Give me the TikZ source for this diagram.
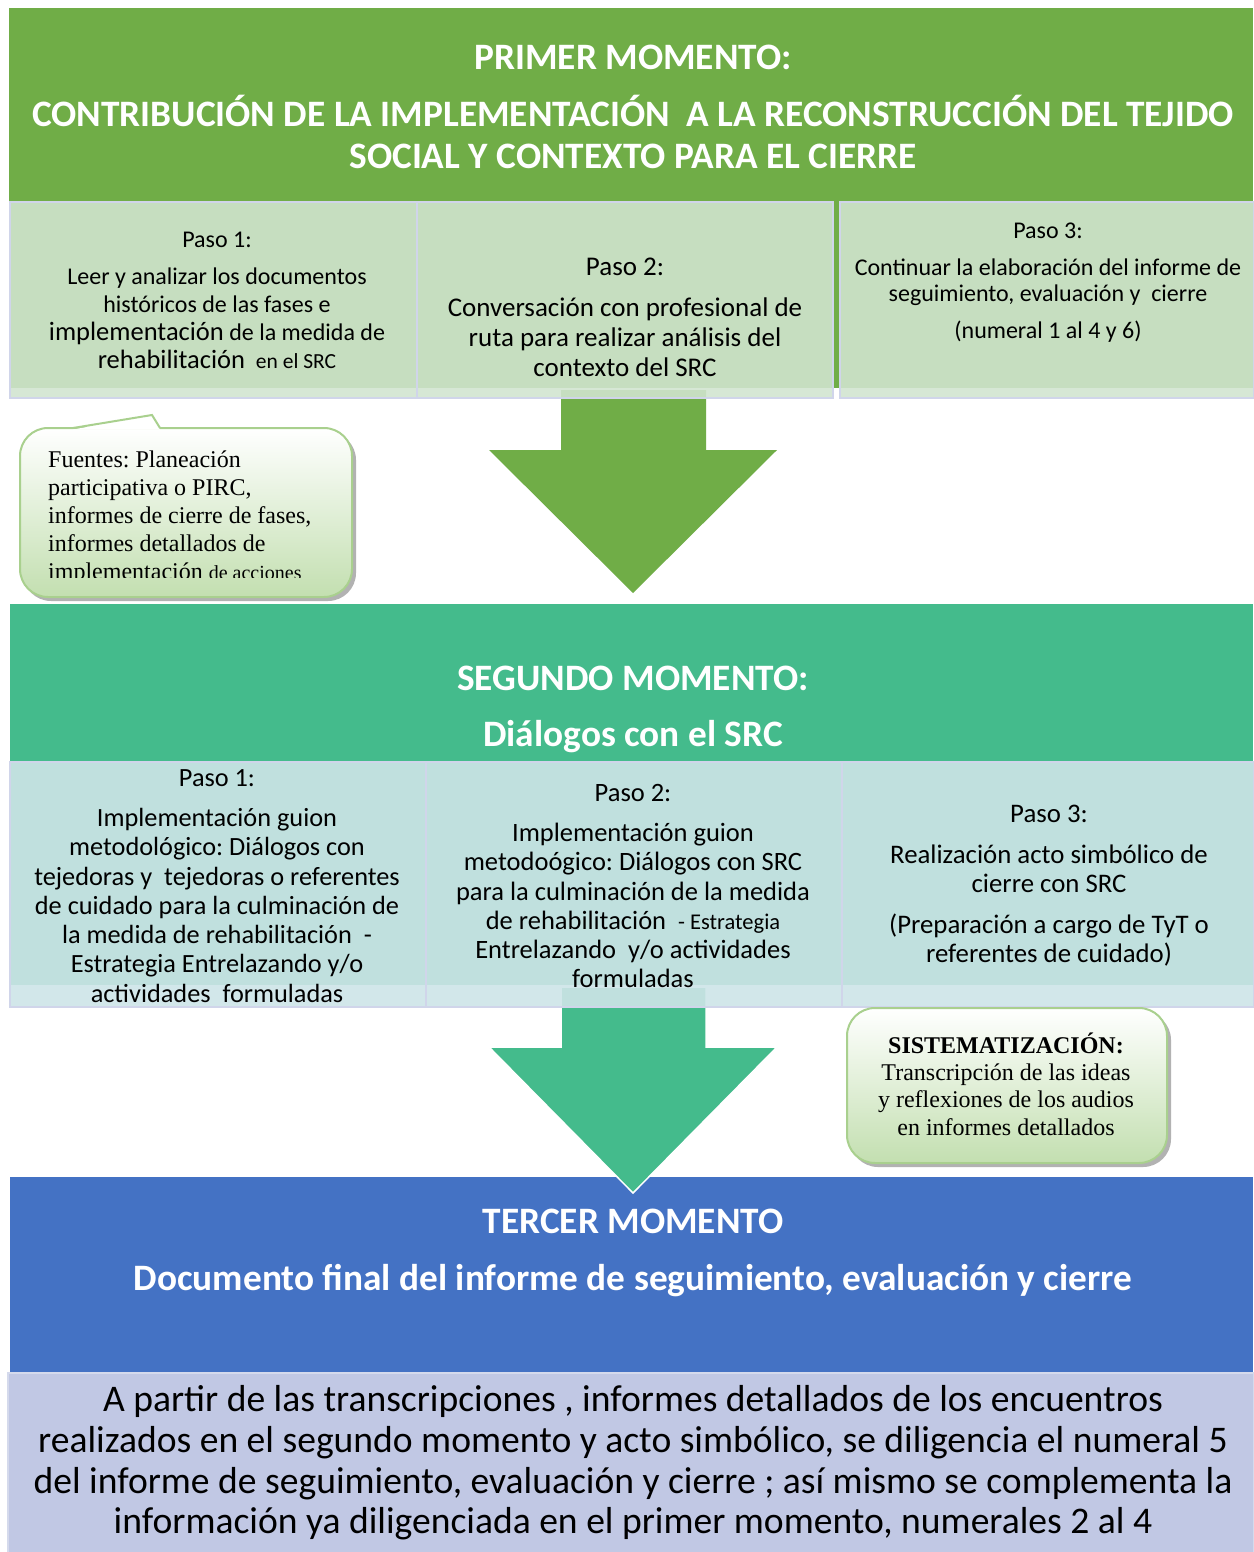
\documentclass[tikz,border=0pt]{standalone}
\usepackage{fontspec}
\setmainfont{Carlito}
\newfontfamily\tnr{Liberation Serif}
\frenchspacing
\definecolor{gA}{HTML}{70AD47}
\definecolor{tA}{HTML}{44BB8C}
\definecolor{bA}{HTML}{4472C4}
\definecolor{lav}{HTML}{D0D5EA}
\definecolor{boxA}{RGB}{209,229,208}
\definecolor{boxB}{RGB}{206,229,232}
\definecolor{botfill}{HTML}{C1C8E4}
\definecolor{botline}{HTML}{D5DAEC}
\definecolor{calborder}{HTML}{A9D08E}
\definecolor{calbot}{HTML}{C3DFB0}
\newcommand\myfs[2]{\fontsize{#1}{#2}\selectfont}
\begin{document}
\frenchspacing
\begin{tikzpicture}[x=1pt,y=-1pt,
  title/.style={text=white, font=\bfseries\myfs{37.3}{44}, inner sep=0pt, anchor=base},
  ptext/.style={align=center, inner sep=0pt, text=black, execute at begin node=\frenchspacing},
  rowA/.style={fill=boxA, fill opacity=0.89, draw=lav, line width=1.8pt},
  rowB/.style={fill=boxB, fill opacity=0.9, draw=lav, line width=1.8pt},
  calshadow/.style={fill=black!55, opacity=0.55, rounded corners=28pt},
  calbody/.style={top color=white, bottom color=calbot, draw=calborder, line width=2pt, rounded corners=28pt},
  bigarrow/.style={line join=miter}
]
\useasboundingbox (0,0) rectangle (1253,1552);
\fill[white] (0,0) rectangle (1253,1552);

% ---------- first moment ----------
\fill[gA] (9,8) rectangle (1253,388);
\fill[gA, bigarrow] (561,390) -- (706,390) -- (706,450) -- (777,450) -- (633,593) -- (489,450) -- (561,450) -- cycle;
\path[rowA] (10,202) rectangle (417,398);
\path[rowA] (417,202) rectangle (833,398);
\path[rowA] (840,202) rectangle (1254,398);

\node[title] (t1a) at (633,70) {PRIMER MOMENTO:};
\node[title] (t1b) at (633,127) {CONTRIBUCIÓN DE LA IMPLEMENTACIÓN\ \ A LA RECONSTRUCCIÓN DEL TEJIDO};
\node[title] (t1c) at (633,168) {SOCIAL Y CONTEXTO PARA EL CIERRE};

\node[ptext, font=\myfs{24}{28}] (p11) at (217,300) {Paso 1:\\[9pt]Leer y analizar los documentos\\históricos de las fases e\\{\myfs{26.5}{28}implementación} de la medida de\\{\myfs{26.5}{28}rehabilitación}\ \ {\myfs{21.5}{28}en el SRC}};
\node[ptext, font=\myfs{27}{30}] (p12) at (625,317) {Paso 2:\\[11pt]Conversación con profesional de\\ruta para realizar análisis del\\contexto del SRC};
\node[ptext, font=\myfs{24}{26}] (p13) at (1048,283) {Paso 3:\\[11pt]Continuar la elaboración del informe de\\seguimiento, evaluación y\ \ cierre\\[11pt](numeral 1 al 4 y 6)};

% callout Fuentes
\fill[calshadow] (23,432) rectangle (356,601);
\path[calbody] (20,428) rectangle (352,597);
\fill[white] (73,429.5) -- (152,415) -- (160,429.5) -- cycle;
\draw[calborder, line width=2pt, line join=miter] (73,428) -- (152,415) -- (160,428);
\begin{scope}
\clip (20,428) rectangle (352,577);
\node[align=left, inner sep=0pt, anchor=north west, font=\tnr\myfs{24}{28}, execute at begin node=\frenchspacing] (fuentes) at (48,451) {Fuentes: Planeación\\participativa o PIRC,\\informes de cierre de fases,\\informes detallados de\\implementación {\myfs{20}{28}de acciones}};
\end{scope}

% ---------- second moment ----------
\fill[tA] (10,604) rectangle (1253,985);
\fill[bA] (10,1177) rectangle (1253,1372);
\filldraw[fill=tA, draw=white, line width=1.5pt, bigarrow] (561,987) -- (706,987) -- (706,1047) -- (777,1047) -- (633,1193) -- (489,1047) -- (561,1047) -- cycle;
\path[rowB] (10,762) rectangle (426,1007);
\path[rowB] (426,762) rectangle (842,1007);
\path[rowB] (842,762) rectangle (1254,1007);

\node[title] (t2a) at (633,690) {SEGUNDO MOMENTO:};
\node[title] (t2b) at (633,746) {Diálogos con el SRC};

\node[ptext, font=\myfs{26.3}{29.3}] (p21) at (217,886) {Paso 1:\\[10.7pt]Implementación guion\\metodológico: Diálogos con\\tejedoras y\ \ tejedoras o referentes\\de cuidado para la culminación de\\la medida de rehabilitación\ \ -\\Estrategia Entrelazando y/o\\actividades\ \ formuladas};
\node[ptext, font=\myfs{26.5}{29.2}] (p22) at (633,886) {Paso 2:\\[11pt]Implementación guion\\metodoógico: Diálogos con SRC\\para la culminación de la medida\\de rehabilitación\ \ {\myfs{22.5}{29.2}- Estrategia}\\Entrelazando\ \ y/o actividades\\formuladas};
\node[ptext, font=\myfs{26.8}{29}] (p23) at (1049,886) {Paso 3:\\[12pt]Realización acto simbólico de\\cierre con SRC\\[12pt](Preparación a cargo de TyT o\\referentes de cuidado)};

% callout Sistematizacion
\fill[calshadow] (850,1012) rectangle (1171,1167);
\path[calbody] (847,1008) rectangle (1167,1163);
\node[align=center, inner sep=0pt, font=\tnr\myfs{24}{27.3}] (sist) at (1006,1084) {{\bfseries SISTEMATIZACIÓN:}\\Transcripción de las ideas\\y reflexiones de los audios\\en informes detallados};

% ---------- third moment ----------
\node[title] (t3a) at (633,1233) {TERCER MOMENTO};
\node[title] (t3b) at (633,1290) {Documento final del informe de seguimiento, evaluación y cierre};
\filldraw[fill=botfill, draw=botline, line width=1.5pt] (8,1373) rectangle (1254,1553);
\node[ptext, font=\myfs{37.6}{40.7}] (fin) at (633,1463) {A partir de las transcripciones , informes detallados de los encuentros\\realizados en el segundo momento y acto simbólico, se diligencia el numeral 5\\del informe de seguimiento, evaluación y cierre ; así mismo se complementa la\\información ya diligenciada en el primer momento, numerales 2 al 4};
\end{tikzpicture}
\end{document}
